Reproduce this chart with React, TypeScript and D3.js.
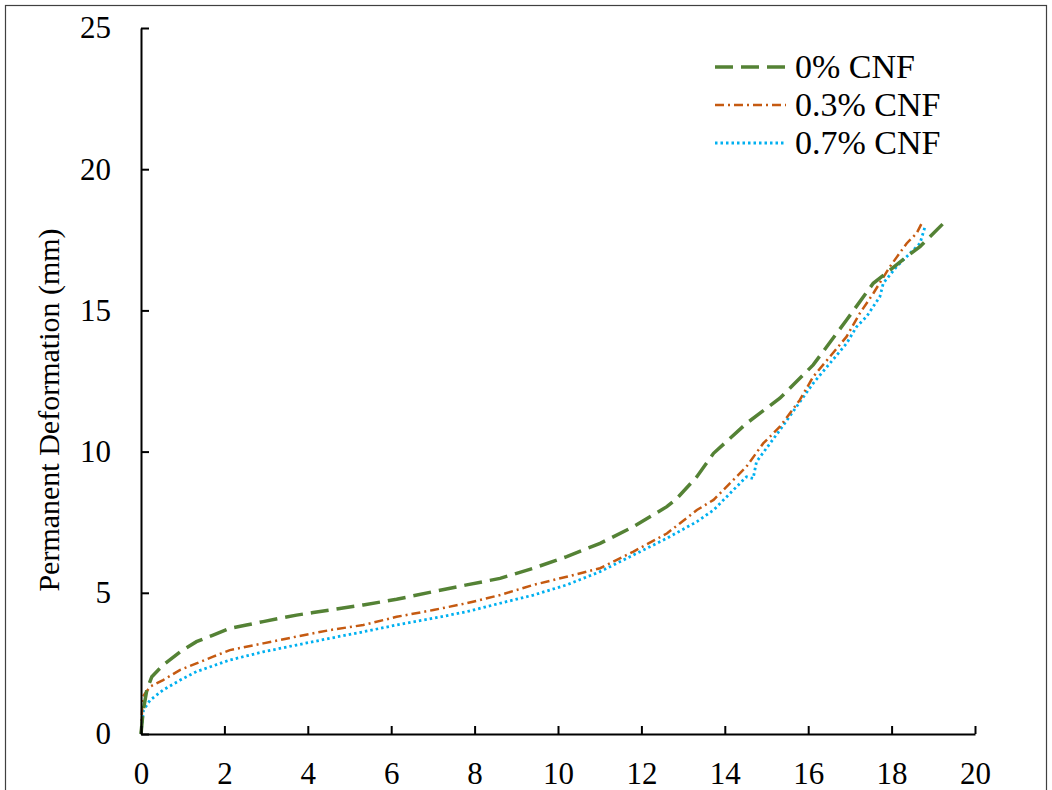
import { useEffect, useRef } from 'react';
import * as d3 from 'd3';

// cycles (x) vs permanent deformation in mm (y)
const seriesNames = ['0% CNF', '0.3% CNF', '0.7% CNF'];

const cnf0X = [0, 0.05, 0.14, 0.26, 0.53, 0.94, 1.33, 1.73, 2.13, 2.53, 2.93, 3.33, 3.73, 4.13, 4.53, 5.33, 6.13, 7.01, 7.81, 8.61, 9.41, 10.21, 11.01, 11.81, 12.61, 12.85, 13.33, 13.73, 14.52, 15.32, 16.12, 16.92, 17.56, 18.36, 18.68, 18.92, 19.24];
const cnf0Y = [0, 0.8, 1.56, 2.03, 2.44, 2.91, 3.27, 3.5, 3.74, 3.86, 3.98, 4.1, 4.21, 4.3, 4.39, 4.57, 4.77, 5.04, 5.28, 5.51, 5.87, 6.28, 6.75, 7.34, 8.05, 8.34, 9.11, 9.94, 11.0, 11.89, 13.07, 14.66, 15.96, 16.9, 17.26, 17.61, 18.08];

const cnf03X = [0, 0.04, 0.22, 0.53, 0.94, 1.33, 1.73, 2.13, 2.93, 3.73, 4.53, 5.33, 6.13, 7.01, 7.81, 8.61, 9.41, 10.21, 11.01, 11.81, 12.61, 13.33, 13.73, 14.52, 14.92, 15.32, 15.8, 16.12, 16.92, 17.24, 17.56, 17.96, 18.36, 18.6, 18.72];
const cnf03Y = [0, 1.32, 1.68, 1.91, 2.27, 2.5, 2.74, 2.97, 3.21, 3.45, 3.68, 3.86, 4.15, 4.39, 4.63, 4.92, 5.28, 5.57, 5.87, 6.46, 7.1, 7.93, 8.29, 9.47, 10.29, 10.88, 11.83, 12.65, 14.07, 14.9, 15.6, 16.55, 17.37, 17.73, 18.08];

const cnf07X = [0, 0.06, 0.22, 0.53, 0.94, 1.33, 2.13, 2.93, 3.73, 4.53, 5.33, 6.13, 7.01, 7.81, 8.61, 9.41, 10.21, 11.01, 11.81, 12.61, 13.33, 13.73, 14.52, 14.68, 14.76, 15.32, 16.12, 16.92, 17.16, 17.4, 17.72, 17.8, 18.12, 18.44, 18.68, 18.8];
const cnf07Y = [0, 0.85, 1.2, 1.56, 1.91, 2.21, 2.62, 2.91, 3.15, 3.39, 3.62, 3.86, 4.1, 4.33, 4.63, 4.92, 5.28, 5.75, 6.34, 6.93, 7.52, 7.93, 9.11, 9.05, 9.64, 10.76, 12.42, 13.83, 14.42, 14.78, 15.49, 15.96, 16.55, 17.02, 17.37, 17.96];

const xTicks = [0, 2, 4, 6, 8, 10, 12, 14, 16, 18, 20];
const yTicks = [0, 5, 10, 15, 20, 25];

const colors = ['#548235', '#C55A11', '#00B0F0'];
const dashes = ['18,8', '9,4,2,4', '2.5,3'];
const widths = [3.5, 2.5, 2.8];

const App = () => {
    const svgRef = useRef<SVGSVGElement | null>(null);
    const width = 1052;
    const height = 790;

    useEffect(() => {
        const svg = d3.select(svgRef.current);
        svg.selectAll('*').remove();

        const font = '"Liberation Serif", "Times New Roman", serif';

        // outer frame
        svg.append('rect')
            .attr('x', 5.5)
            .attr('y', 5.5)
            .attr('width', 1041)
            .attr('height', 800)
            .attr('fill', 'none')
            .attr('stroke', '#404040')
            .attr('stroke-width', 1.2);

        const xScale = d3.scaleLinear().domain([0, 20]).range([141, 975]);
        const yScale = d3.scaleLinear().domain([0, 25]).range([734, 28]);

        const series = [
            cnf0X.map((x, i) => [x, cnf0Y[i]]),
            cnf03X.map((x, i) => [x, cnf03Y[i]]),
            cnf07X.map((x, i) => [x, cnf07Y[i]]),
        ];

        const line = d3.line<number[]>()
            .x(d => xScale(d[0]))
            .y(d => yScale(d[1]));

        // draw blue first so green sits on top like the original
        [2, 1, 0].forEach(k => {
            svg.append('path')
                .attr('d', line(series[k]))
                .attr('fill', 'none')
                .attr('stroke', colors[k])
                .attr('stroke-width', widths[k])
                .attr('stroke-dasharray', dashes[k]);
        });

        const xAxis = d3.axisBottom(xScale)
            .tickValues(xTicks)
            .tickSizeInner(-8)
            .tickSizeOuter(0)
            .tickPadding(28)
            .tickFormat(d => String(d));

        const gx = svg.append('g')
            .attr('transform', `translate(0, ${yScale(0)})`)
            .call(xAxis);

        const yAxis = d3.axisLeft(yScale)
            .tickValues(yTicks)
            .tickSizeInner(-8)
            .tickSizeOuter(0)
            .tickPadding(30)
            .tickFormat(d => String(d));

        const gy = svg.append('g')
            .attr('transform', `translate(${xScale(0)}, 0)`)
            .call(yAxis);

        [gx, gy].forEach(g => {
            g.select('.domain').attr('stroke', '#000').attr('stroke-width', 2);
            g.selectAll('.tick line').attr('stroke', '#000').attr('stroke-width', 2);
            g.selectAll('.tick text')
                .attr('fill', '#000')
                .style('font-family', font)
                .style('font-size', '31px');
        });

        svg.append('text')
            .attr('transform', 'rotate(-90)')
            .attr('x', -410)
            .attr('y', 59)
            .attr('text-anchor', 'middle')
            .style('font-family', font)
            .style('font-size', '30px')
            .text('Permanent Deformation (mm)');

        // legend
        const legendY = [67, 105, 143];
        seriesNames.forEach((name, k) => {
            svg.append('line')
                .attr('x1', 715)
                .attr('x2', 786)
                .attr('y1', legendY[k])
                .attr('y2', legendY[k])
                .attr('stroke', colors[k])
                .attr('stroke-width', widths[k])
                .attr('stroke-dasharray', dashes[k]);
            svg.append('text')
                .attr('x', 795)
                .attr('y', legendY[k] + 11)
                .style('font-family', font)
                .style('font-size', '34px')
                .text(name);
        });
    }, []);

    return (
        <div>
            <svg
                ref={svgRef}
                width={width}
                height={height}
                style={{ position: 'absolute', left: 0, top: 0, background: '#fff' }}
            ></svg>
        </div>
    );
};

export default App;
